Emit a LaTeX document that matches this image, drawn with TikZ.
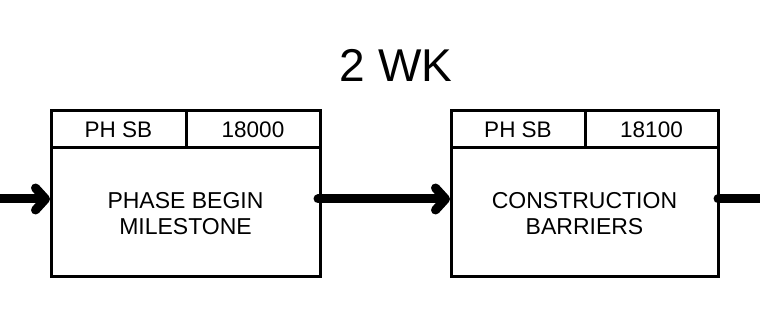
\documentclass[tikz,border=0pt]{standalone}
\usepackage{fontspec}
\setmainfont{Liberation Sans}
\usetikzlibrary{arrows.meta}
\begin{document}
\begin{tikzpicture}[x=1pt,y=-1pt,
  boxline/.style={line width=3pt},
  flow/.style={line width=9pt, line cap=round, -{Straight Barb[round,length=10pt,width=22pt,line width=9pt]}},
  hdr/.style={font=\fontsize{22.5}{24}\selectfont, inner sep=0pt},
  body/.style={font=\fontsize{23}{26}\selectfont, align=center, inner sep=0pt}]
\useasboundingbox (0,0) rectangle (760,312);
% title
\node[font=\fontsize{46}{52}\selectfont, inner sep=0pt] (title) at (396,65) {2 WK};
% box 1
\draw[boxline] (51,111) rectangle (320,277);
\draw[boxline] (51,148) -- (320,148);
\draw[boxline] (186,111) -- (186,148);
\node[hdr] (h1a) at (118.5,130) {PH SB};
\node[hdr] (h1b) at (253,130) {18000};
\node[body] (b1) at (185.5,214) {PHASE BEGIN\\MILESTONE};
% box 2
\draw[boxline] (451,111) rectangle (718,277);
\draw[boxline] (451,148) -- (718,148);
\draw[boxline] (585,111) -- (585,148);
\node[hdr] (h2a) at (518,130) {PH SB};
\node[hdr] (h2b) at (651.5,130) {18100};
\node[body] (b2) at (584.5,214) {CONSTRUCTION\\BARRIERS};
% connectors
\coordinate (in1) at (-10,199);
\coordinate (e1w) at (50,199);
\coordinate (e1e) at (318,199);
\coordinate (e2w) at (450,199);
\coordinate (e2e) at (718,199);
\coordinate (out2) at (770,199);
\draw[flow] (in1) -- (e1w);
\draw[flow] (e1e) -- (e2w);
\draw[line width=9pt, line cap=round] (e2e) -- (out2);
\end{tikzpicture}
\end{document}
